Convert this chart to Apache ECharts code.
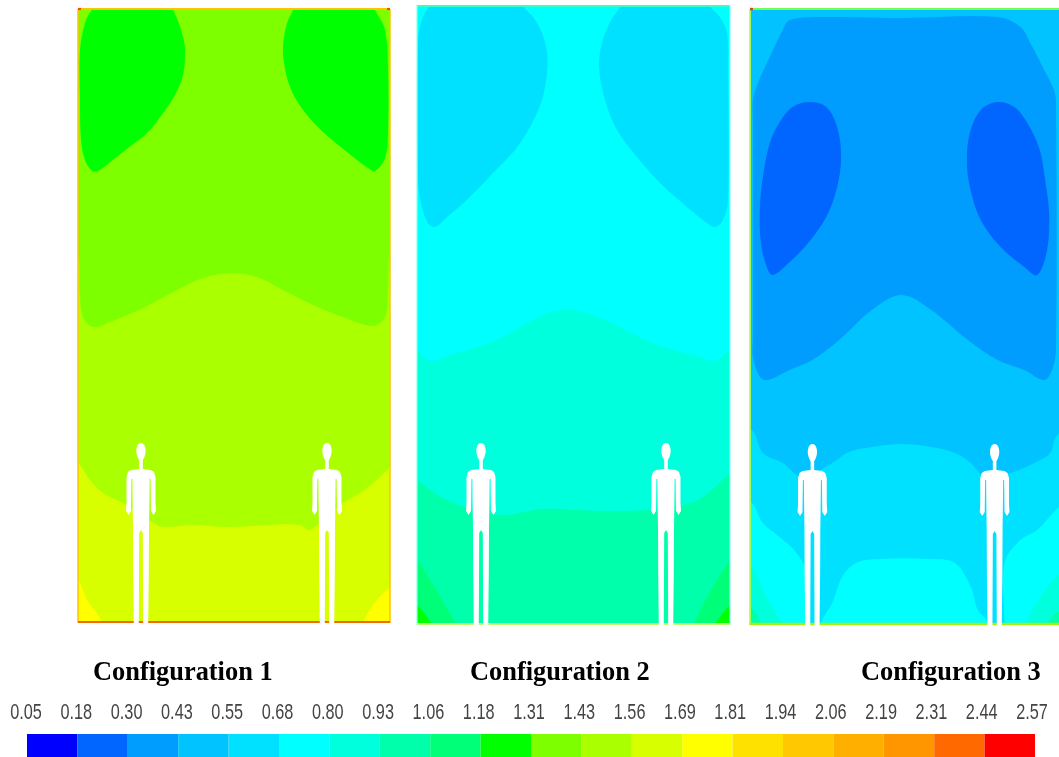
<!DOCTYPE html>
<html><head><meta charset="utf-8">
<style>html,body{margin:0;padding:0;background:#fff}#c{width:1059px;height:757px;filter:blur(.6px)}</style>
<script src="https://cdn.jsdelivr.net/npm/echarts@6/dist/echarts.min.js"></script>
</head><body><div id="c"></div>
<script>
// colour-bar
const tickLabels = ['0.05','0.18','0.30','0.43','0.55','0.68','0.80','0.93','1.06','1.18','1.31','1.43','1.56','1.69','1.81','1.94','2.06','2.19','2.31','2.44','2.57'];
const levelColors = ['#0000ff','#0066ff','#009dff','#00c3ff','#00e1ff','#00ffff','#00ffdc','#00ffaa','#00ff78','#00ff00','#7dff00','#aaff00','#d7ff00','#ffff00','#ffe100','#ffc800','#ffaf00','#ff9600','#ff6900','#ff0000'];
const panelTitles = ['Configuration 1','Configuration 2','Configuration 3'];

// contour bands: [distance from panel's left, distance from panel's top]
const p1BlobL = [[22,-8],[90,-8],[96,3],[100,12],[105,28],[107,41],[105,66],[97,86],[85,104],[70,123],[50,139],[32,153],[20,162],[14,162],[7,151],[3,131],[2,91],[2,41],[7,14],[13,2]];
const p1BlobR = [[222,-8],[290,-8],[298,3],[307,21],[310,58],[310,124],[307,149],[297,162],[290,159],[269,143],[245,123],[225,101],[212,78],[206,54],[205,38],[208,18],[214,3]];
const p1Band11 = [[1,250],[2,285],[5,308],[15,318],[32,313],[65,299],[99,281],[125,269],[152,264],[179,268],[205,281],[235,296],[265,308],[295,317],[307,308],[310,284],[311,250],[345,660],[-33,660]];
const p1Band12 = [[-20,440],[0,454],[12,471],[25,484],[49,496],[79,516],[89,518],[115,516],[149,518],[189,516],[222,516],[232,521],[265,494],[282,484],[299,471],[312,458],[332,440],[340,660],[-30,660]];
const p1CornerL = [[-15,560],[0,571],[9,591],[22,609],[30,630],[-15,630]];
const p1CornerR = [[327,565],[312,578],[299,591],[287,609],[280,630],[327,630]];

const p2BlobL = [[20,-8],[100,-8],[108,4],[116,12],[125,28],[130,48],[130,68],[125,95],[113,122],[98,145],[76,168],[53,192],[30,212],[18,222],[11,218],[5,202],[1,175],[1,35],[6,12],[12,2]];
const p2BlobR = [[212,-8],[286,-8],[295,4],[303,12],[310,28],[311,62],[311,195],[306,215],[298,222],[290,218],[270,202],[243,178],[220,152],[200,125],[188,95],[182,62],[185,38],[193,17],[202,4]];
const p2Band6 = [[-20,330],[0,345],[13,356],[33,350],[60,342],[86,332],[110,318],[135,307],[150,305],[165,307],[195,318],[226,334],[250,343],[280,351],[298,356],[311,346],[333,330],[340,660],[-30,660]];
const p2Band7 = [[-20,460],[0,475],[13,485],[30,495],[50,503],[86,510],[126,504],[160,505],[193,506],[233,505],[266,500],[286,492],[313,468],[333,450],[340,660],[-30,660]];
const p2Corner8L = [[-15,540],[0,555],[13,575],[28,600],[38,618],[45,640],[-15,640]];
const p2Corner8R = [[328,540],[313,555],[296,582],[280,612],[272,640],[328,640]];
const p2Corner9L = [[-15,590],[0,600],[10,612],[15,620],[18,640],[-15,640]];
const p2Corner9R = [[328,590],[313,600],[303,612],[298,620],[295,640],[328,640]];

const p3Band2 = [[3,110],[3,91],[8,74],[20,48],[33,21],[40,11],[73,8],[157,9],[250,8],[273,18],[283,34],[297,61],[307,81],[309,95],[309,340],[305,361],[297,371],[277,361],[250,351],[220,331],[183,301],[153,286],[123,301],[90,331],[63,351],[40,361],[18,371],[10,368],[3,348],[3,330]];
const p3OvalL = [[60,93],[77,98],[88,118],[92,148],[88,178],[77,208],[57,236],[40,253],[23,266],[17,258],[11,234],[10,198],[13,168],[20,134],[30,113],[43,98]];
const p3OvalR = [[250,93],[267,98],[280,114],[292,139],[298,171],[302,204],[300,241],[290,266],[277,258],[253,238],[233,211],[222,178],[219,151],[222,124],[233,101]];
const p3Band4 = [[-20,410],[2,421],[13,444],[33,454],[53,468],[83,454],[100,443],[123,438],[153,435],[183,438],[207,444],[223,454],[237,468],[263,464],[287,454],[303,444],[309,428],[330,410],[340,660],[-30,660]];
const p3Lobe5L = [[-20,480],[2,494],[13,514],[30,528],[47,544],[57,564],[57,616],[57,650],[-20,650]];
const p3Lobe5C = [[60,650],[73,611],[83,594],[93,568],[107,554],[130,550],[183,550],[207,554],[223,578],[230,601],[240,613],[250,650]];
const p3Lobe5R = [[257,650],[257,616],[257,554],[273,531],[290,521],[309,501],[330,485],[330,650]];
const p3Corner6L = [[-15,545],[2,558],[10,574],[20,594],[30,610],[36,618],[44,640],[-15,640]];
const p3Corner6R = [[330,555],[309,568],[292,590],[280,612],[274,640],[330,640]];
const p3Corner7L = [[-15,590],[2,600],[9,610],[13,620],[16,640],[-15,640]];
const p3Corner7R = [[330,595],[309,604],[302,612],[298,620],[295,640],[330,640]];

// silhouette, offset from body axis and head top
const personHead = [[0,0],[2.5,1],[4.1,4],[4.7,8],[4.1,12],[2.5,16],[0,18],[-2.5,16],[-4.1,12],[-4.7,8],[-4.1,4],[-2.5,1]];
const personBody = [[-1.8,14],[1.8,14],[1.8,26],[10,27],[13,29],[14.5,34],[14.5,60],[15,68],[12.5,72],[10,68],[9.6,36],[8.6,36],[8.4,58],[8,85],[7.8,130],[7.2,183],[2.2,183],[1.8,90],[0,87],[-1.8,90],[-2.2,183],[-7.2,183],[-7.8,130],[-8,85],[-8.4,58],[-8.6,36],[-9.6,36],[-10,68],[-12.5,72],[-15,68],[-14.5,60],[-14.5,34],[-13,29],[-10,27],[-1.8,26]];

const panel1People = [[63,434],[249,434]];
const panel2People = [[64,438],[249,438]];
const panel3People = [[63,435],[247,435]];

const panels = [
  {left:78, top:9, w:312, h:614, base:10, people:panel1People,
   bands:[[9,p1BlobL],[9,p1BlobR],[11,p1Band11],[12,p1Band12],[13,p1CornerL],[13,p1CornerR]],
   edges:[['#ffc400',2,[[0,0],[312,0]]],['#ffc400',1.5,[[0,0],[0,614]]],['#ffc400',1.5,[[312,0],[312,614]]],['#f56a00',2.2,[[0,613],[312,613]]],['#ff4a00',2.2,[[0,0],[3,0]]],['#ff4a00',2.2,[[309,0],[312,0]]]]},
  {left:417, top:5, w:313, h:620, base:5, people:panel2People,
   bands:[[4,p2BlobL],[4,p2BlobR],[6,p2Band6],[7,p2Band7],[8,p2Corner8L],[8,p2Corner8R],[9,p2Corner9L],[9,p2Corner9R]],
   edges:[['#30ffd0',2,[[0,1],[313,1]]],['#90ffe8',1.2,[[0,0],[0,620]]],['#90ffe8',1.2,[[313,0],[313,620]]],['#c0ff70',2,[[0,619],[313,619]]]]},
  {left:750, top:9, w:312, h:616, base:3, people:panel3People,
   bands:[[2,p3Band2],[1,p3OvalL],[1,p3OvalR],[4,p3Band4],[5,p3Lobe5L],[5,p3Lobe5C],[5,p3Lobe5R],[6,p3Corner6L],[6,p3Corner6R],[7,p3Corner7L],[7,p3Corner7R]],
   edges:[['#70ff50',2.2,[[0,0],[312,0]]],['#b8ff40',1.8,[[0,0],[0,616]]],['#a8ee10',2.4,[[0,615],[312,615]]],['#e04020',2.4,[[0,0],[3,0]]]]}
];

const grids=[], xAxes=[], yAxes=[], series=[];
const hidden = {show:false};
panels.forEach((p,i)=>{
  grids.push({left:p.left, top:p.top, width:p.w, height:p.h});
  xAxes.push({gridIndex:i, type:'value', min:0, max:p.w, ...hidden});
  yAxes.push({gridIndex:i, type:'value', min:0, max:p.h, inverse:true, ...hidden});
  const rect = c => ({type:'rect', shape:{x:c.x,y:c.y,width:c.width,height:c.height}});
  const layers = [[p.base,[[0,0],[p.w,0],[p.w,p.h],[0,p.h]]], ...p.bands];
  series.push({type:'custom', xAxisIndex:i, yAxisIndex:i, silent:true, z:2,
    data:layers.map((l,k)=>[k,l[0]]),
    renderItem:(params,api)=>{
      const l = layers[params.dataIndex];
      return {type:'polygon', clipPath:rect(params.coordSys),
        shape:{points:l[1].map(q=>api.coord(q)), smooth:params.dataIndex===0?0:0.35},
        style:{fill:levelColors[l[0]]}};
    }});
  series.push({type:'custom', xAxisIndex:i, yAxisIndex:i, silent:true, z:3,
    data:p.edges.map((e,k)=>[k]),
    renderItem:(params,api)=>{
      const e = p.edges[params.dataIndex];
      return {type:'polyline', shape:{points:e[2].map(q=>api.coord(q))}, style:{stroke:e[0], lineWidth:e[1], fill:null}};
    }});
  series.push({type:'custom', xAxisIndex:i, yAxisIndex:i, silent:true, z:4,
    data:p.people,
    renderItem:(params,api)=>{
      const cx=api.value(0), ty=api.value(1);
      const pts = a=>a.map(q=>api.coord([cx+q[0],ty+q[1]]));
      return {type:'group', children:[
        {type:'polygon', shape:{points:pts(personHead), smooth:0.35}, style:{fill:'#fff'}},
        {type:'polygon', shape:{points:pts(personBody)}, style:{fill:'#fff'}}
      ]};
    }});
});

// colour bar swatches
grids.push({left:27, top:734, width:1008, height:24});
xAxes.push({gridIndex:3, type:'category', data:levelColors.map((c,i)=>i), ...hidden});
yAxes.push({gridIndex:3, type:'value', min:0, max:1, ...hidden});
series.push({type:'bar', xAxisIndex:3, yAxisIndex:3, barWidth:'100%', silent:true,
  data:levelColors.map(c=>({value:1, itemStyle:{color:c}}))});

// colour bar tick labels (condensed, as in the source figure)
grids.push({left:26, top:712, width:1006, height:1});
xAxes.push({gridIndex:4, type:'value', min:0, max:20, interval:1, ...hidden});
yAxes.push({gridIndex:4, type:'value', min:0, max:1, ...hidden});
series.push({type:'custom', xAxisIndex:4, yAxisIndex:4, silent:true,
  data:tickLabels.map((t,i)=>[i,0]),
  renderItem:(params,api)=>{
    const q = api.coord([api.value(0),api.value(1)]);
    return {type:'text', x:q[0], y:q[1], scaleX:0.74,
      style:{text:tickLabels[params.dataIndex], fontFamily:'"Liberation Sans",sans-serif', fontSize:22,
        fill:'#444', align:'center', verticalAlign:'middle'}};
  }});

const titleLefts=[93,470,861];
const option = {
  animation:false, backgroundColor:'#fff',
  title:panelTitles.map((t,i)=>({text:t, left:titleLefts[i], top:660, padding:0,
    textStyle:{fontFamily:'"Liberation Serif","Times New Roman",serif', fontWeight:'bold', fontSize:26.4, color:'#000'}})),
  grid:grids, xAxis:xAxes, yAxis:yAxes, series
};
echarts.init(document.getElementById('c'),null,{renderer:'canvas'}).setOption(option);
</script></body></html>
